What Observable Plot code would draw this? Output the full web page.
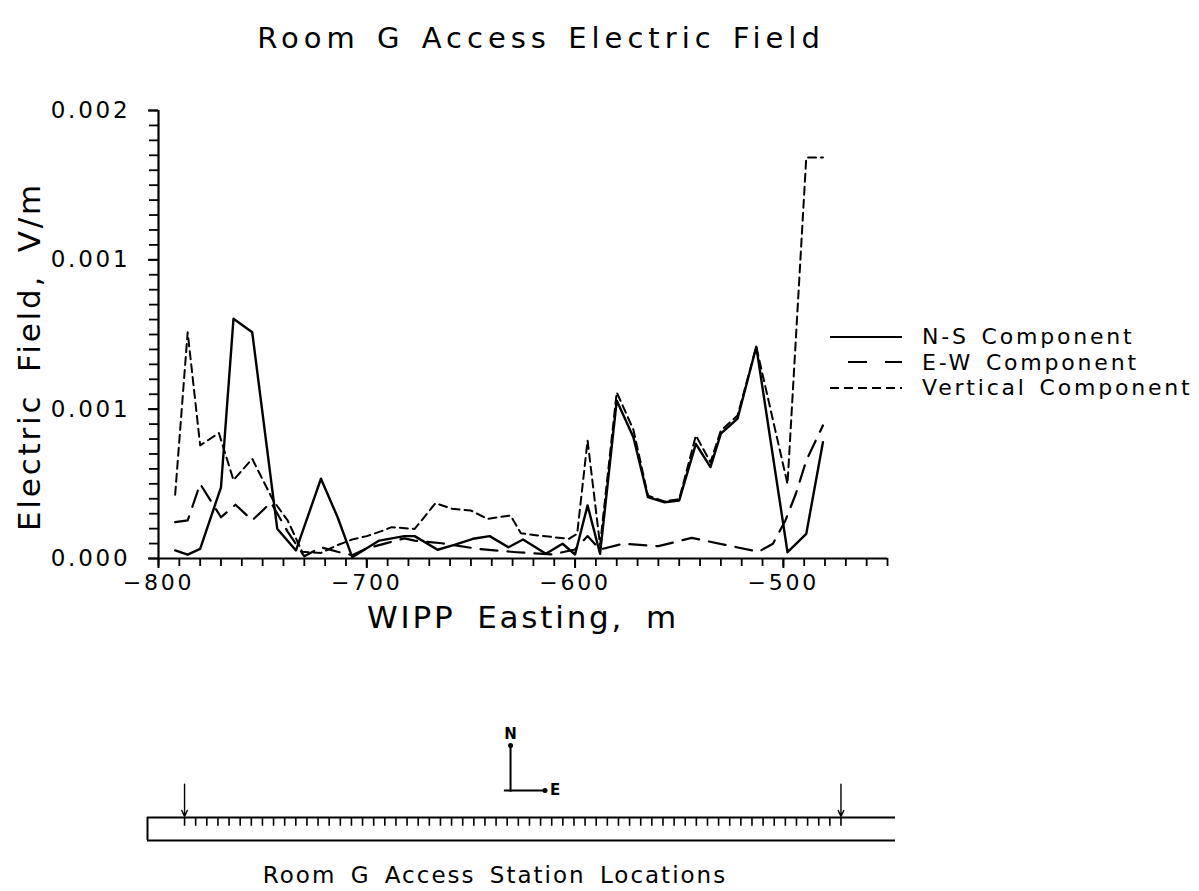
<!DOCTYPE html>
<html>
<head>
<meta charset="utf-8">
<script src="https://cdn.jsdelivr.net/npm/d3@7"></script>
<script src="https://cdn.jsdelivr.net/npm/@observablehq/plot@0.6"></script>
<style>
  body { margin: 0; background: #fff; }
  #page { position: relative; width: 1199px; height: 891px; overflow: hidden;
          font-family: "DejaVu Sans", sans-serif; color: #000; background: #fff; }
  .title { position: absolute; top: 21px; left: 0; width: 1082px; text-align: center;
           font-size: 29px; letter-spacing: 5px; word-spacing: 3px; white-space: nowrap; }
  #chart { position: absolute; left: 0; top: 80px; }
  #legend { position: absolute; left: 830px; top: 324px; font-size: 22px;
            letter-spacing: 2.8px; word-spacing: 3px; }
  #legend .row { height: 25.5px; display: flex; align-items: center; white-space: nowrap; }
  #legend svg { margin-right: 20px; }
  #stations { position: absolute; left: 0; top: 700px; }
  .caption { position: absolute; top: 862px; left: 0; width: 990px; text-align: center;
             font-size: 23px; letter-spacing: 2px; word-spacing: 5px; white-space: nowrap; }
</style>
</head>
<body>
<div id="page">
  <div class="title">Room G Access Electric Field</div>
  <div id="chart"></div>
  <div id="legend"></div>
  <div id="stations"></div>
  <div class="caption">Room G Access Station Locations</div>
</div>
<script>
// ---- Measured electric field along the Room G access drift (V/m) ----
const nsEasting = [-792, -786, -780, -770, -764, -755, -743, -734, -722, -714, -707, -694, -682, -677,
  -666, -658, -649, -641, -632, -625, -614, -606, -600, -594, -588, -580, -572, -565, -557, -550,
  -542, -535, -530, -522, -513, -498, -489, -481];
const nsField = [0.036e-3, 0.017e-3, 0.043e-3, 0.318e-3, 1.070e-3, 1.010e-3, 0.133e-3, 0.036e-3,
  0.356e-3, 0.184e-3, 0.006e-3, 0.080e-3, 0.100e-3, 0.100e-3, 0.039e-3, 0.061e-3, 0.088e-3, 0.100e-3,
  0.050e-3, 0.085e-3, 0.021e-3, 0.066e-3, 0.018e-3, 0.237e-3, 0.021e-3, 0.705e-3, 0.541e-3, 0.274e-3,
  0.251e-3, 0.259e-3, 0.512e-3, 0.408e-3, 0.557e-3, 0.624e-3, 0.945e-3, 0.028e-3, 0.110e-3, 0.519e-3];

const ewEasting = [-792, -786, -780, -770, -763, -755, -746, -738, -730, -722, -714, -707, -700, -690,
  -682, -677, -664, -646, -628, -611, -600, -594, -588, -577, -560, -544, -528, -512, -505, -499,
  -494, -489, -481];
const ewField = [0.162e-3, 0.170e-3, 0.333e-3, 0.184e-3, 0.240e-3, 0.170e-3, 0.250e-3, 0.120e-3,
  0.010e-3, 0.050e-3, 0.030e-3, 0.015e-3, 0.045e-3, 0.070e-3, 0.090e-3, 0.080e-3, 0.068e-3, 0.042e-3,
  0.028e-3, 0.018e-3, 0.040e-3, 0.100e-3, 0.040e-3, 0.066e-3, 0.055e-3, 0.092e-3, 0.061e-3, 0.030e-3,
  0.066e-3, 0.170e-3, 0.289e-3, 0.437e-3, 0.594e-3];

const vtEasting = [-792, -786, -780, -771, -764, -755, -745, -738, -731, -722, -714, -707, -700, -693,
  -688, -677, -667, -659, -650, -642, -631, -626, -618, -603, -599, -594, -588, -580, -572, -565,
  -557, -550, -542, -535, -530, -522, -513, -498, -489, -481];
const vtField = [0.285e-3, 1.010e-3, 0.505e-3, 0.560e-3, 0.350e-3, 0.445e-3, 0.260e-3, 0.170e-3,
  0.030e-3, 0.025e-3, 0.060e-3, 0.085e-3, 0.100e-3, 0.122e-3, 0.140e-3, 0.132e-3, 0.247e-3, 0.222e-3,
  0.214e-3, 0.177e-3, 0.192e-3, 0.113e-3, 0.103e-3, 0.088e-3, 0.110e-3, 0.527e-3, 0.060e-3, 0.742e-3,
  0.575e-3, 0.280e-3, 0.255e-3, 0.265e-3, 0.549e-3, 0.430e-3, 0.571e-3, 0.638e-3, 0.945e-3, 0.333e-3,
  1.790e-3, 1.790e-3];

// ---- Axes ----
const eastingDomain = [-800, -450];
const fieldDomain = [0, 0.002];
const eastingLabels = [-800, -700, -600, -500];
const fieldLabels = [0, 0.002 / 3, 0.004 / 3, 0.002];       // printed with 3 decimals
const eastingMinor = d3.range(-800, -449, 10);
const fieldMinor = d3.range(0, 31).map(i => i * 0.002 / 30);
const xTitle = "WIPP Easting, m";
const yTitle = "Electric Field, V/m";

// ---- Series styling ----
const components = [
  {name: "N-S Component", easting: nsEasting, field: nsField, dash: null, width: 2.4},
  {name: "E-W Component", easting: ewEasting, field: ewField, dash: "17,10", width: 2.2},
  {name: "Vertical Component", easting: vtEasting, field: vtField, dash: "8,5", width: 2}
];
const rows = c => c.easting.map((e, i) => ({easting: e, field: c.field[i]}));

const FONT = "DejaVu Sans, sans-serif";

const chart = Plot.plot({
  width: 1199,
  height: 560,
  marginLeft: 158,
  marginRight: 312,
  marginTop: 30,
  marginBottom: 82,
  x: {domain: eastingDomain},
  y: {domain: fieldDomain},
  style: {fontFamily: FONT, color: "#000", background: "#fff", overflow: "visible"},
  marks: [
    Plot.axisX(eastingMinor, {tickSize: 8, tickFormat: () => "", strokeWidth: 1.8, label: null}),
    Plot.axisX(eastingLabels, {tickSize: 10, tickPadding: 6, fontSize: 22, label: null,
      strokeWidth: 2, tickFormat: d => d3.format("d")(d).replace("-", "\u2212")}),
    Plot.axisY(fieldMinor, {tickSize: 9, tickFormat: () => "", strokeWidth: 1.8, label: null}),
    Plot.axisY(fieldLabels, {tickSize: 10, tickPadding: 18, fontSize: 23, label: null,
      strokeWidth: 2, tickFormat: d3.format(".3f")}),
    Plot.ruleX([eastingDomain[0]], {strokeWidth: 2.2}),
    Plot.ruleY([0], {strokeWidth: 2.2}),
    ...components.map(c => Plot.line(rows(c), {
      x: "easting", y: "field", stroke: "#000", strokeWidth: c.width,
      strokeDasharray: c.dash, strokeLinejoin: "round"
    })),
    Plot.text([xTitle], {frameAnchor: "bottom", dy: 60, fontSize: 31, lineAnchor: "middle"}),
    Plot.text([yTitle], {frameAnchor: "left", textAnchor: "middle", rotate: -90, dx: -128, dy: 22,
      fontSize: 31, lineAnchor: "middle"})
  ]
});

// plotter-style wide lettering
d3.select(chart).selectAll("text").each(function () {
  const t = this.textContent;
  const spacing = (t === xTitle || t === yTitle) ? "2.8px" : "2.8px";
  d3.select(this).attr("letter-spacing", spacing).attr("word-spacing", "9px");
});
document.getElementById("chart").appendChild(chart);

// ---- Legend ----
const legend = document.getElementById("legend");
for (const c of components) {
  const row = document.createElement("div");
  row.className = "row";
  const longDash = c.name.startsWith("E-W");
  const dashAttr = c.dash ? ` stroke-dasharray="${longDash ? "19,18" : "9,5"}"` : "";
  const x0 = longDash ? 18 : 0;
  row.innerHTML = `<svg width="72" height="12"><line x1="${x0}" x2="72" y1="6" y2="6" stroke="#000" stroke-width="2.2"${dashAttr}/></svg><span>${c.name}</span>`;
  legend.appendChild(row);
}

// ---- Station location sketch ----
const firstStation = 1;
const lastStation = 60;
const stationIds = d3.range(firstStation, lastStation + 1);
const roomStart = -2.33, roomEnd = 64.9;      // drift outline, in station units
const compass = {x: 30.3, y: 2.17, north: 4.13, east: 33.4};

const stations = Plot.plot({
  width: 1199,
  height: 191,
  marginLeft: 147,
  marginRight: 304,
  marginTop: 0,
  marginBottom: 0,
  x: {domain: [roomStart, roomEnd], axis: null},
  y: {domain: [-2.217, 6.087], axis: null},
  style: {fontFamily: FONT, color: "#000", background: "transparent", overflow: "visible"},
  marks: [
    Plot.ruleY([0, 1], {x1: roomStart, x2: roomEnd, strokeWidth: 2}),
    Plot.ruleX([roomStart], {y1: 0, y2: 1, strokeWidth: 2}),
    Plot.ruleX(stationIds, {y1: 1, y2: 0.62, strokeWidth: 1.6}),
    Plot.arrow([firstStation, lastStation], {x1: d => d, x2: d => d, y1: 2.45, y2: 1.05,
      headLength: 7, headAngle: 50, strokeWidth: 1.4}),
    Plot.link([compass], {x1: "x", x2: "x", y1: d => d.y - 0.05, y2: "north", strokeWidth: 2}),
    Plot.link([compass], {x1: d => d.x - 0.6, x2: "east", y1: "y", y2: "y", strokeWidth: 2}),
    Plot.dot([{x: compass.x, y: compass.north}, {x: compass.east, y: compass.y}],
      {x: "x", y: "y", r: 2.5, fill: "#000"}),
    Plot.text([compass], {x: "x", y: d => d.north + 0.5, text: () => "N", fontSize: 15, fontWeight: "bold"}),
    Plot.text([compass], {x: d => d.east + 0.9, y: "y", text: () => "E", fontSize: 15, fontWeight: "bold"})
  ]
});
document.getElementById("stations").appendChild(stations);
</script>
</body>
</html>
